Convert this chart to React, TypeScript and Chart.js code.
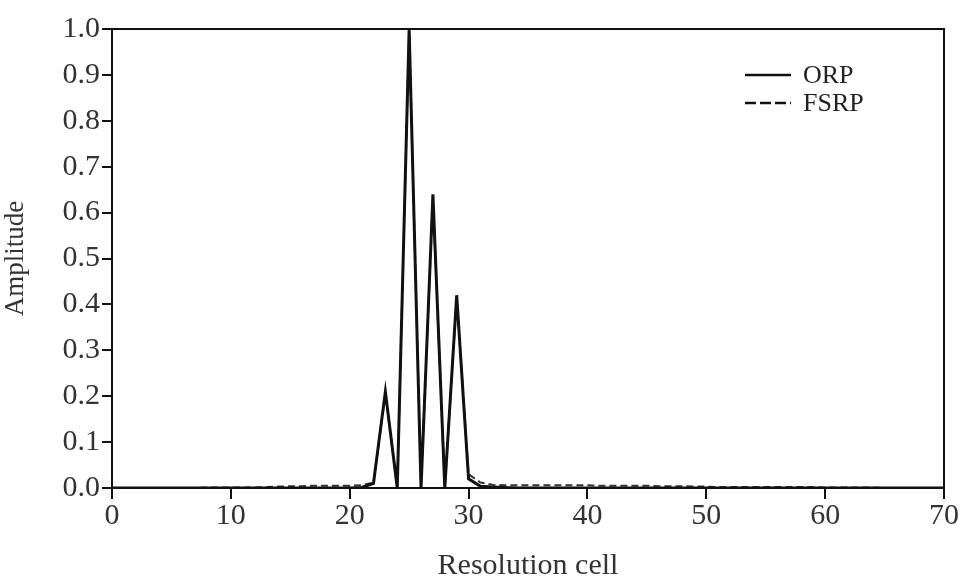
import React, { useEffect, useRef } from "react";
import { Chart, registerables } from "chart.js";

Chart.register(...registerables);

const resolutionCells: number[] = Array.from({ length: 71 }, (_, i) => i);

const orpValues: number[] = [
  0, 0, 0, 0, 0, 0, 0, 0, 0, 0,
  0, 0, 0, 0, 0, 0, 0, 0, 0, 0,
  0, 0.001, 0.01, 0.21, 0.0, 1.0, 0.0, 0.64, 0.0, 0.42,
  0.02, 0.004, 0.002, 0.001, 0, 0, 0, 0, 0, 0,
  0, 0, 0, 0, 0, 0, 0, 0, 0, 0,
  0, 0, 0, 0, 0, 0, 0, 0, 0, 0,
  0, 0, 0, 0, 0, 0, 0, 0, 0, 0,
  0,
];

const fsrpValues: number[] = [
  0, 0, 0, 0, 0, 0, 0, 0, 0.001, 0.001,
  0.001, 0.001, 0.001, 0.002, 0.003, 0.004, 0.004, 0.005, 0.005, 0.005,
  0.005, 0.006, 0.012, 0.205, 0.003, 0.995, 0.003, 0.63, 0.003, 0.415,
  0.03, 0.012, 0.007, 0.006, 0.006, 0.006, 0.006, 0.006, 0.006, 0.006,
  0.006, 0.005, 0.005, 0.005, 0.005, 0.005, 0.004, 0.004, 0.004, 0.003,
  0.003, 0.002, 0.002, 0.002, 0.002, 0.002, 0.002, 0.002, 0.002, 0.002,
  0.001, 0.001, 0.001, 0.001, 0.001, 0, 0, 0, 0, 0,
  0,
];

const seriesNames: string[] = ["ORP", "FSRP"];
const yTickValues: number[] = [0, 0.1, 0.2, 0.3, 0.4, 0.5, 0.6, 0.7, 0.8, 0.9, 1.0];
const xTickValues: number[] = [0, 10, 20, 30, 40, 50, 60, 70];

const FONT = "'Liberation Serif', 'DejaVu Serif', serif";

const frameAndLegend = {
  id: "frameAndLegend",
  afterDatasetsDraw(chart: any) {
    const { ctx, chartArea } = chart;
    ctx.save();
    ctx.strokeStyle = "#111";
    ctx.lineWidth = 2;
    ctx.setLineDash([]);
    ctx.strokeRect(chartArea.left, chartArea.top, chartArea.right - chartArea.left, chartArea.bottom - chartArea.top);

    const lx0 = chartArea.left + 633;
    const lx1 = lx0 + 46;
    const rows = [chartArea.top + 46, chartArea.top + 74];
    chart.data.datasets.forEach((ds: any, i: number) => {
      const y = rows[i];
      ctx.beginPath();
      ctx.strokeStyle = "#111";
      ctx.lineWidth = 2.5;
      ctx.setLineDash(ds.borderDash ? [11, 4] : []);
      ctx.moveTo(lx0, y);
      ctx.lineTo(lx1, y);
      ctx.stroke();
      ctx.setLineDash([]);
      ctx.fillStyle = "#222";
      ctx.font = `26px ${FONT}`;
      ctx.textAlign = "left";
      ctx.textBaseline = "middle";
      ctx.fillText(ds.label, lx1 + 12, y + 1);
    });
    ctx.restore();
  },
};

export default function App() {
  const canvasRef = useRef<HTMLCanvasElement | null>(null);

  useEffect(() => {
    if (!canvasRef.current) return;
    const chart = new Chart(canvasRef.current, {
      type: "line",
      data: {
        datasets: [
          {
            label: seriesNames[0],
            data: resolutionCells.map((x, i) => ({ x, y: orpValues[i] })),
            borderColor: "#111",
            borderWidth: 3,
            pointRadius: 0,
            tension: 0,
          },
          {
            label: seriesNames[1],
            data: resolutionCells.map((x, i) => ({ x, y: fsrpValues[i] })),
            borderColor: "#333",
            borderWidth: 2,
            borderDash: [7, 4],
            pointRadius: 0,
            tension: 0,
          },
        ],
      },
      options: {
        animation: false,
        responsive: false,
        maintainAspectRatio: false,
        layout: { padding: { top: 29, right: 14, left: 0, bottom: 0 } },
        plugins: {
          legend: { display: false },
          tooltip: { enabled: false },
        },
        scales: {
          x: {
            type: "linear",
            min: 0,
            max: 70,
            afterFit: (s: any) => { s.height = 93; },
            afterBuildTicks: (s: any) => { s.ticks = xTickValues.map((v) => ({ value: v })); },
            grid: { drawOnChartArea: false, tickLength: 11, color: "#111", lineWidth: 2 },
            border: { display: true, color: "#111", width: 2 },
            ticks: {
              color: "#333",
              font: { family: FONT, size: 30, lineHeight: 1.0 },
              padding: 2,
              maxRotation: 0,
            },
            title: {
              display: true,
              text: "Resolution cell",
              color: "#333",
              font: { family: FONT, size: 30, lineHeight: 1.0 },
              padding: { top: 14, bottom: 0 },
            },
          },
          y: {
            type: "linear",
            min: 0,
            max: 1,
            afterFit: (s: any) => { s.width = 112; },
            afterBuildTicks: (s: any) => { s.ticks = yTickValues.map((v) => ({ value: v })); },
            grid: { drawOnChartArea: false, tickLength: 10, color: "#111", lineWidth: 2 },
            border: { display: true, color: "#111", width: 2 },
            ticks: {
              color: "#333",
              font: { family: FONT, size: 30 },
              padding: 2,
              callback: (v: any) => Number(v).toFixed(1),
            },
            title: {
              display: true,
              text: "Amplitude",
              color: "#333",
              font: { family: FONT, size: 27 },
              padding: { top: 0, bottom: 6 },
            },
          },
        },
      },
      plugins: [frameAndLegend],
    });
    return () => chart.destroy();
  }, []);

  return (
    <div style={{ position: "fixed", left: 0, top: 0, width: 961, height: 581, background: "#fff" }}>
      <canvas ref={canvasRef} width={961} height={581} style={{ width: 961, height: 581, display: "block" }} />
    </div>
  );
}
